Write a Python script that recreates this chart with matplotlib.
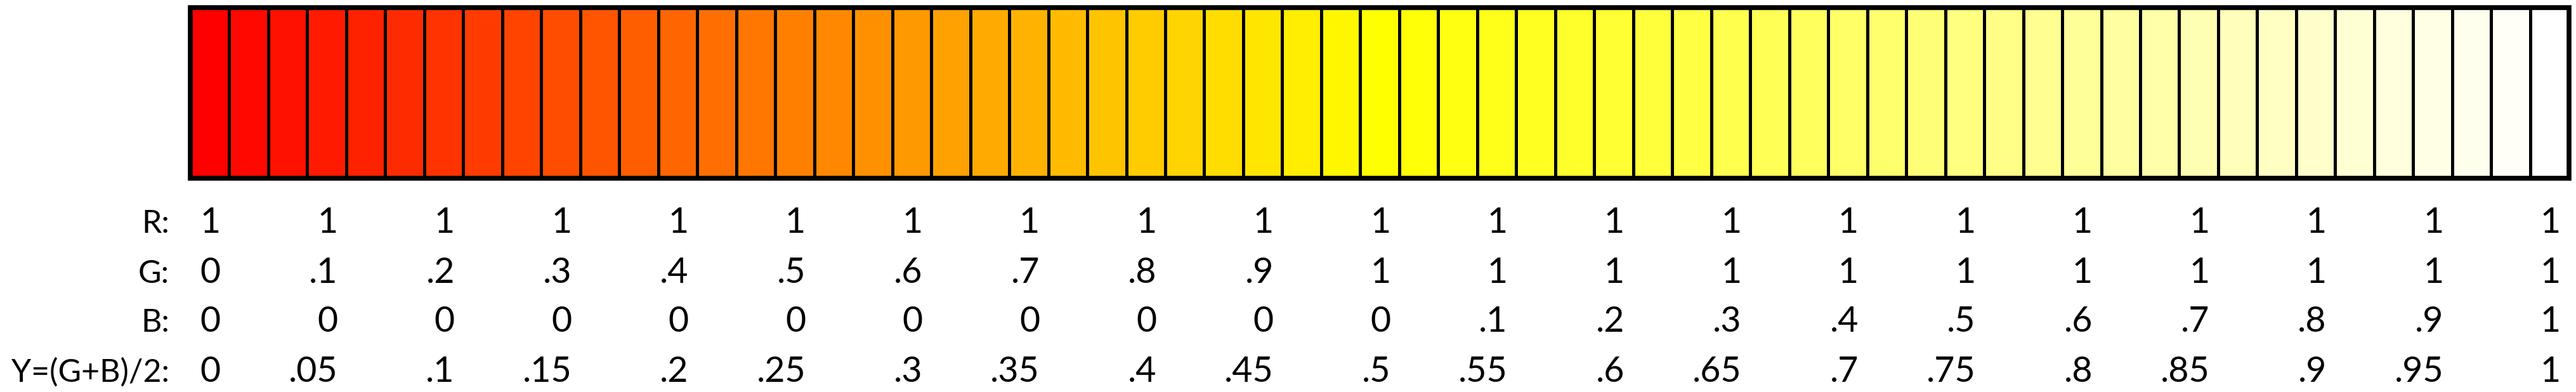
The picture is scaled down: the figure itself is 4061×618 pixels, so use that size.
import matplotlib.pyplot as plt
from matplotlib.patches import Rectangle

# colour of each of the 61 cells (R is always 1)
g_cells = [0, .033, .067, .1, .133, .167, .2, .233, .267, .3,
           .333, .367, .4, .433, .467, .5, .533, .567, .6, .633,
           .667, .7, .733, .767, .8, .833, .867, .9, .933, .967,
           1, 1, 1, 1, 1, 1, 1, 1, 1, 1,
           1, 1, 1, 1, 1, 1, 1, 1, 1, 1,
           1, 1, 1, 1, 1, 1, 1, 1, 1, 1, 1]
b_cells = [0, 0, 0, 0, 0, 0, 0, 0, 0, 0,
           0, 0, 0, 0, 0, 0, 0, 0, 0, 0,
           0, 0, 0, 0, 0, 0, 0, 0, 0, 0,
           0, .033, .067, .1, .133, .167, .2, .233, .267, .3,
           .333, .367, .4, .433, .467, .5, .533, .567, .6, .633,
           .667, .7, .733, .767, .8, .833, .867, .9, .933, .967, 1]

# labels under every third cell
label_cells = [0, 3, 6, 9, 12, 15, 18, 21, 24, 27, 30,
               33, 36, 39, 42, 45, 48, 51, 54, 57, 60]
row_names = ['R:', 'G:', 'B:', 'Y=(G+B)/2:']
r_labels = ['1'] * 21
g_labels = ['0', '.1', '.2', '.3', '.4', '.5', '.6', '.7', '.8', '.9', '1',
            '1', '1', '1', '1', '1', '1', '1', '1', '1', '1']
b_labels = ['0', '0', '0', '0', '0', '0', '0', '0', '0', '0', '0',
            '.1', '.2', '.3', '.4', '.5', '.6', '.7', '.8', '.9', '1']
y_labels = ['0', '.05', '.1', '.15', '.2', '.25', '.3', '.35', '.4', '.45', '.5',
            '.55', '.6', '.65', '.7', '.75', '.8', '.85', '.9', '.95', '1']

plt.rcParams['font.family'] = ['Lato', 'DejaVu Sans']

fig = plt.figure(figsize=(40.61, 6.18), dpi=100)
ax = fig.add_axes([0, 0, 1, 1])
cw = 61.48  # cell width in pixels
ax.set_xlim(-300 / cw, (4061 - 300) / cw)
ax.set_ylim(618, 0)
ax.axis('off')

n = len(g_cells)
top, bottom = 12, 281
colors = [(1, g, b) for g, b in zip(g_cells, b_cells)]
ax.bar([i + 0.5 for i in range(n)], bottom - top, width=1, bottom=top,
       color=colors, edgecolor='black', linewidth=3.6)
ax.add_patch(Rectangle((0, top), n, bottom - top, fill=False,
                       edgecolor='black', linewidth=5.5, zorder=3))

baselines = [367, 446, 523, 602]
rows = [r_labels, g_labels, b_labels, y_labels]
for name, base, labels in zip(row_names, baselines, rows):
    ax.text(-0.54, base, name, ha='right', va='baseline', fontsize=36)
    for c, lab in zip(label_cells, labels):
        ax.text(c + 0.78, base, lab, ha='right', va='baseline', fontsize=40)

plt.savefig('out.png')
